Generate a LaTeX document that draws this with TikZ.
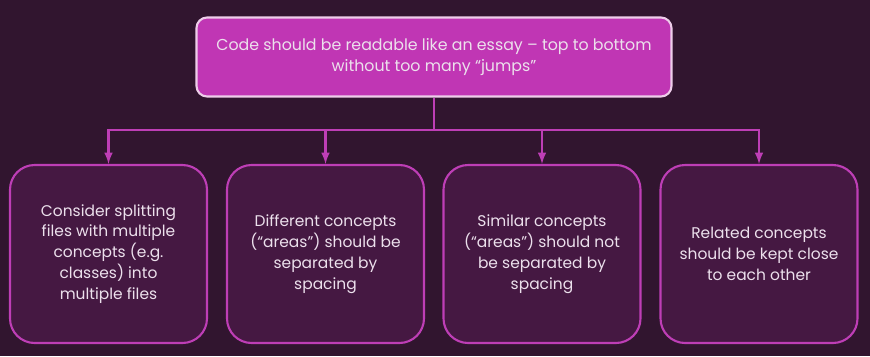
\documentclass[tikz,border=0pt]{standalone}
\usepackage{fontspec}
\setmainfont{Poppins}
\usepackage{tikz}
\usetikzlibrary{positioning}
\definecolor{SlideBack}{RGB}{49,21,47}
\definecolor{CardFill}{RGB}{69,24,66}
\definecolor{CardLine}{RGB}{190,62,182}
\definecolor{HeadFill}{RGB}{192,54,180}
\definecolor{HeadLine}{RGB}{238,205,234}
\definecolor{CardInk}{RGB}{236,224,236}

\begin{document}
\begin{tikzpicture}[
  head/.style={draw=HeadLine,line width=1.2pt,fill=HeadFill,rounded corners=6pt,minimum width=9.5cm,minimum height=1.58cm,font=\fontsize{9}{12.2}\selectfont,text=CardInk,align=center},
  card/.style={draw=CardLine,line width=1.2pt,fill=CardFill,rounded corners=14pt,minimum width=3.94cm,minimum height=3.56cm,font=\fontsize{8.8}{11.9}\selectfont,text=CardInk,align=center},
  arr/.style={-latex,line width=1.2pt,draw=CardLine}]
  \fill[SlideBack] (0,0) rectangle (17.4,-7.12);
  \useasboundingbox (0,0) rectangle (17.4,-7.12);
  \node[head] (rule) at (8.68,-1.14) {Code should be readable like an essay – top to bottom\\without too many “jumps”};
  \node[card] (split) at (2.17,-5.08) {Consider splitting\\files with multiple\\concepts (e.g.\\classes) into\\multiple files};
  \node[card] (diff) at (6.51,-5.08) {Different concepts\\(“areas”) should be\\separated by\\spacing};
  \node[card] (similar) at (10.84,-5.08) {Similar concepts\\(“areas”) should not\\be separated by\\spacing};
  \node[card] (related) at (15.18,-5.08) {Related concepts\\should be kept close\\to each other};
  \coordinate (bar) at (8.68,-2.6);
  \draw[arr,-] (rule) -- (bar);
  \draw[arr] (bar) -| (split);
  \draw[arr] (bar) -| (diff);
  \draw[arr] (bar) -| (similar);
  \draw[arr] (bar) -| (related);
\end{tikzpicture}
\end{document}
